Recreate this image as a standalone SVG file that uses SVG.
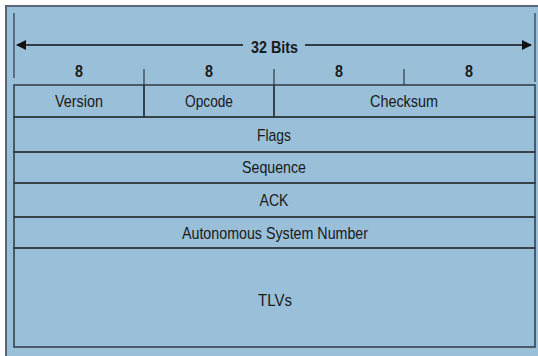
<svg xmlns="http://www.w3.org/2000/svg" width="538" height="356" viewBox="0 0 538 356">
<style>
.t{font-family:"Liberation Sans",Arial,sans-serif;font-size:17px;fill:#1a1a1a;text-anchor:middle}
.n{font-weight:bold}
.cell{fill:none;stroke:#2f3a44;stroke-width:1.5}
.ln{stroke:#2f3a44;stroke-width:1.2}
</style>
<defs>
<marker id="ah" viewBox="0 0 10 10" refX="9" refY="5" markerWidth="10" markerHeight="10" markerUnits="userSpaceOnUse" orient="auto">
<path d="M0,0 L10,5 L0,10 Z" fill="#111"/>
</marker>
</defs>
<rect x="0" y="0" width="538" height="356" fill="#ffffff"/>
<rect x="6" y="6" width="534" height="352" fill="#99bfd9" stroke="#56687a" stroke-width="2"/>
<g id="connectors">
<line class="ln" x1="14" y1="13" x2="14" y2="78"/>
<line class="ln" x1="535" y1="13" x2="535" y2="82"/>
<line x1="243" y1="45" x2="17" y2="45" stroke="#111" stroke-width="1.5" marker-end="url(#ah)"/>
<line x1="305" y1="45" x2="531" y2="45" stroke="#111" stroke-width="1.5" marker-end="url(#ah)"/>
<line class="ln" x1="144" y1="69" x2="144" y2="85"/>
<line class="ln" x1="274" y1="69" x2="274" y2="85"/>
<line class="ln" x1="404" y1="69" x2="404" y2="85"/>
</g>
<g id="header">
<text class="t n" x="274.5" y="53" textLength="47" lengthAdjust="spacingAndGlyphs">32 Bits</text>
<text class="t n" x="79" y="77" textLength="8" lengthAdjust="spacingAndGlyphs">8</text>
<text class="t n" x="209" y="77" textLength="8" lengthAdjust="spacingAndGlyphs">8</text>
<text class="t n" x="339" y="77" textLength="8" lengthAdjust="spacingAndGlyphs">8</text>
<text class="t n" x="469" y="77" textLength="8" lengthAdjust="spacingAndGlyphs">8</text>
</g>
<g id="version"><rect class="cell" x="14" y="85" width="130" height="32"/><text class="t" x="79" y="107" textLength="48" lengthAdjust="spacingAndGlyphs">Version</text></g>
<g id="opcode"><rect class="cell" x="144" y="85" width="130" height="32"/><text class="t" x="209" y="107" textLength="48" lengthAdjust="spacingAndGlyphs">Opcode</text></g>
<g id="checksum"><rect class="cell" x="274" y="85" width="261" height="32"/><text class="t" x="404" y="107" textLength="68" lengthAdjust="spacingAndGlyphs">Checksum</text></g>
<g id="flags"><rect class="cell" x="14" y="117" width="521" height="35"/><text class="t" x="274" y="141" textLength="34" lengthAdjust="spacingAndGlyphs">Flags</text></g>
<g id="sequence"><rect class="cell" x="14" y="152" width="521" height="31"/><text class="t" x="274" y="173" textLength="64" lengthAdjust="spacingAndGlyphs">Sequence</text></g>
<g id="ack"><rect class="cell" x="14" y="183" width="521" height="34"/><text class="t" x="274" y="206" textLength="29" lengthAdjust="spacingAndGlyphs">ACK</text></g>
<g id="asn"><rect class="cell" x="14" y="217" width="521" height="31"/><text class="t" x="275" y="239" textLength="186" lengthAdjust="spacingAndGlyphs">Autonomous System Number</text></g>
<g id="tlvs"><rect class="cell" x="14" y="248" width="521" height="99"/><text class="t" x="275" y="306" textLength="34" lengthAdjust="spacingAndGlyphs">TLVs</text></g>
</svg>
